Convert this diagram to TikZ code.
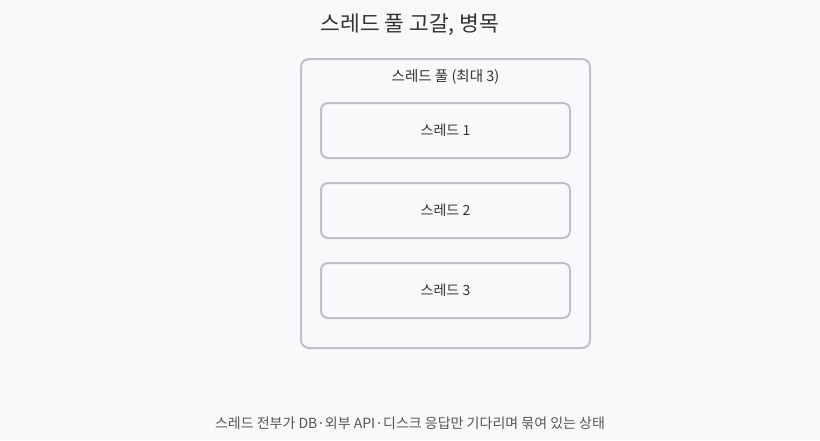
\documentclass[tikz,border=0pt]{standalone}
\usepackage{fontspec}
\setmainfont{Noto Sans CJK KR}
\usetikzlibrary{positioning}
\definecolor{bgpage}{HTML}{F9F9FB}
\definecolor{boxline}{HTML}{C0C0C8}
\definecolor{inktext}{HTML}{333333}
\definecolor{notetext}{HTML}{555555}
\tikzset{
  poolbox/.style={draw=boxline, line width=2pt, rounded corners=8pt,
    minimum width=289pt, minimum height=289pt, inner sep=0pt},
  threadbox/.style={draw=boxline, line width=2pt, rounded corners=7pt,
    minimum width=249pt, minimum height=55pt, inner sep=0pt,
    text=inktext, font=\fontsize{14}{16}\selectfont},
  titletext/.style={text=inktext, font=\fontsize{21.5}{24}\selectfont},
  pooltext/.style={text=inktext, font=\fontsize{14.5}{16}\selectfont},
  notetextstyle/.style={text=notetext, font=\fontsize{14}{16}\selectfont}
}
\begin{document}
\begin{tikzpicture}[x=1pt, y=-1pt]
  % page
  \fill[bgpage] (0,0) rectangle (820,440);
  \useasboundingbox (0,0) rectangle (820,440);

  \node[titletext] (title) at (410, 25) {스레드 풀 고갈, 병목};

  % pool
  \node[poolbox] (pool) at (445.5, 203.5) {};
  \node[pooltext] (poollabel) at (445.5, 77) {스레드 풀 (최대 3)};

  % threads
  \node[threadbox] (t1) at (445.5, 130.5) {스레드 1};
  \node[threadbox] (t2) at (445.5, 210.5) {스레드 2};
  \node[threadbox] (t3) at (445.5, 290.5) {스레드 3};

  \node[notetextstyle] (note) at (410, 423) {스레드 전부가 DB·외부 API·디스크 응답만 기다리며 묶여 있는 상태};
\end{tikzpicture}
\end{document}
